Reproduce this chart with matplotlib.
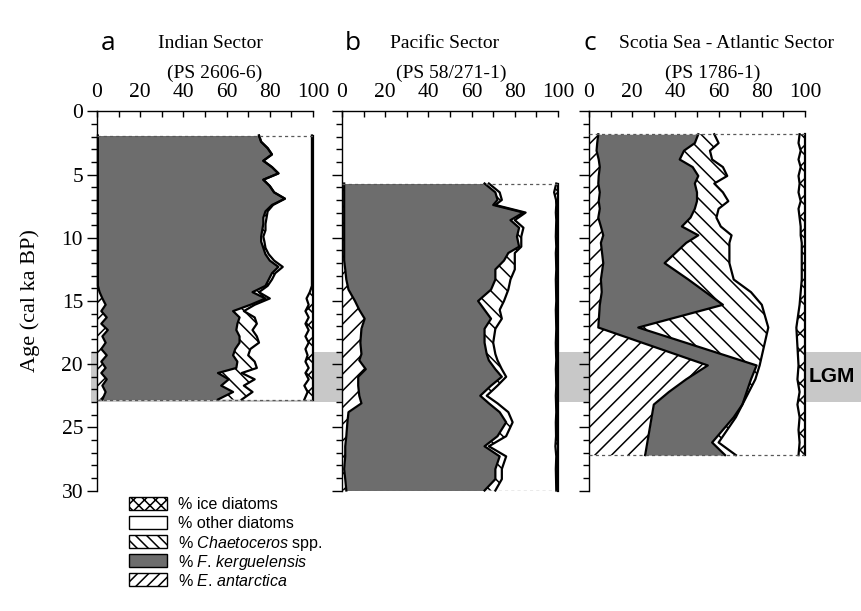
import matplotlib
matplotlib.use("Agg")
import matplotlib.pyplot as plt
import numpy as np
from matplotlib.patches import Rectangle
from matplotlib.transforms import blended_transform_factory

plt.rcParams['font.family'] = 'Liberation Serif'
plt.rcParams['hatch.linewidth'] = 1.1
plt.rcParams['mathtext.fontset'] = 'custom'
plt.rcParams['mathtext.it'] = 'Liberation Sans:italic'
plt.rcParams['mathtext.rm'] = 'Liberation Sans'

# ---- a: Indian Sector (PS 2606-6) ----
age_a = [1.9, 2.4, 2.9, 3.4, 3.9, 4.4, 4.9, 5.4, 5.9, 6.4, 6.9, 7.4, 7.9, 8.4, 8.9,
         9.4, 9.9, 10.3, 10.8, 11.3, 11.8, 12.3, 12.8, 13.3, 13.8, 14.3, 14.8, 15.3,
         15.8, 16.3, 16.8, 17.3, 17.8, 18.3, 18.8, 19.3, 19.8, 20.3, 20.7, 21.2, 21.7,
         22.2, 22.8]
ea_a = [0.4] * 25 + [1.2, 2.5, 4, 2, 4.5, 2, 5, 2.5, 4, 2, 4.5, 2, 4, 2, 4.5, 2.5, 4, 2.5]
fk_top_a = [75, 76, 79, 81, 77, 81, 84, 77, 80, 82, 87, 81, 78, 77, 77, 76.5, 76, 76, 77,
            78, 80, 84, 81, 79.5, 78, 72, 78, 71, 63, 66, 65, 64.5, 66, 66, 64, 63, 65,
            64.5, 56, 61, 57.5, 63, 56]
ch_a = [0] * 11 + [0.5, 1, 1.5, 1, 1.5, 1, 1.5, 1, 1.5, 2, 2, 1.5, 1.5, 1, 3, 2, 2, 5, 7,
                   9, 7.5, 8, 9, 7, 7, 8, 9.5, 11, 12, 10.5, 9, 11]
ice_a = [0.5] * 25 + [1.5, 3, 2, 3.5, 2, 3.5, 2, 3.5, 2, 3.5, 2.5, 3.5, 2, 3.5, 2, 4, 2.5, 4]

# ---- b: Pacific Sector (PS 58/271-1) ----
age_b = [5.7, 6.4, 7.0, 7.4, 8.0, 8.6, 9.2, 9.9, 10.7, 11.2, 11.8, 12.5, 13.3, 14.1, 15.0,
         15.7, 16.4, 17.2, 18.3, 19.2, 19.7, 20.4, 21.0, 21.7, 22.5, 23.1, 23.8, 24.6,
         25.7, 26.5, 27.3, 28.3, 29.1, 30.0]
ea_b = [1, 1, 1, 1, 1, 1, 1, 1, 1, 1, 1, 1.5, 2, 3, 6, 8, 10.5, 9, 8.5, 9, 8, 11, 7.5,
        7.5, 8, 9, 3, 2.5, 2, 1.5, 1.5, 1, 1.5, 2]
fk_top_b = [66, 71, 72, 70, 84, 78, 82, 81, 82, 77, 75, 71, 71, 69, 63, 66, 69, 66, 66,
            67, 68, 71, 74, 69, 64, 68, 73, 76, 72, 66, 73, 71, 71, 66]
ch_top_b = [68, 73, 74, 71, 85, 80, 84, 83, 83, 80, 80, 80, 78, 77, 75, 73, 74, 71, 70,
            71, 72, 74, 76, 72, 67, 72, 77, 79, 76, 68, 76, 74, 74, 71]
ice_b = [0.8, 1.8, 0.9, 0.8, 1, 0.8, 0.9, 1, 0.8, 1, 0.9, 0.8, 1, 0.9, 0.8, 1, 0.9, 0.8,
         1, 0.9, 0.8, 1, 0.9, 0.8, 1, 0.9, 0.8, 1, 0.9, 1.2, 0.8, 1, 0.9, 0.8]

# ---- c: Scotia Sea - Atlantic Sector (PS 1786-1) ----
age_c = [1.8, 2.5, 3.1, 3.8, 4.4, 5.1, 5.7, 6.4, 7.1, 7.7, 8.4, 9.1, 9.8, 10.4, 12.0,
         13.3, 14.3, 15.3, 17.1, 20.1, 21.2, 22.2, 23.2, 24.2, 25.2, 26.2, 27.2]
ea_c = [4.3, 3.8, 3.5, 4.5, 5, 4.5, 4.3, 5, 4.5, 5, 4.3, 5.5, 6.6, 5.5, 6.6, 5.5, 5.9,
        5, 4.3, 55, 45, 37, 30, 29, 28, 27, 26]
fk_top_c = [50.6, 49, 44, 42, 48, 50.6, 49, 50, 50, 49, 47, 43, 50.6, 45, 35, 46, 54,
            62, 22.8, 77.6, 75, 73, 71, 67, 62, 57, 63]
ch_top_c = [58, 60, 56, 57, 62, 64, 58, 62, 64.5, 60, 59, 61, 66, 65, 65, 67, 75, 80,
            83, 79, 77, 74, 71, 68, 64, 60, 68]
ice_c = [2.5, 3, 2, 3, 2, 3, 2.5, 3, 2, 3, 2.5, 2, 2, 1.5, 1.5, 1.5, 2, 2.5, 4, 3, 3.5,
         2.5, 3.5, 2.5, 3, 2.5, 3]

letters = ['a', 'b', 'c']
sectors = ['Indian Sector', 'Pacific Sector', 'Scotia Sea - Atlantic Sector']
cores = ['(PS 2606-6)', '(PS 58/271-1)', '(PS 1786-1)']
pct_ticks = [0, 20, 40, 60, 80, 100]
age_ticks = [0, 5, 10, 15, 20, 25, 30]
legend_labels = ['% ice diatoms', '% other diatoms', '% $\\it{Chaetoceros}$ spp.',
                 '% $\\it{F.\\,kerguelensis}$', '% $\\it{E.\\,antarctica}$']
lgm = (19, 23)

# percentages per taxon for each core
ea_a = np.array(ea_a); fk_a = np.array(fk_top_a) - ea_a
ea_b = np.array(ea_b); fk_b = np.array(fk_top_b) - ea_b
ch_b = np.array(ch_top_b) - np.array(fk_top_b)
ea_c = np.array(ea_c); fk_c = np.array(fk_top_c) - ea_c
ch_c = np.array(ch_top_c) - np.array(fk_top_c)
records = [
    (age_a, ea_a, fk_a, np.array(ch_a), np.array(ice_a)),
    (age_b, ea_b, fk_b, ch_b, np.array(ice_b)),
    (age_c, ea_c, fk_c, ch_c, np.array(ice_c)),
]

FK_COL = '#6d6d6d'
W, H = 862, 611
fx = lambda px: px / W
fy = lambda py: 1 - py / H

fig = plt.figure(figsize=(W / 100, H / 100), dpi=100)

ax_top, ax_bot = 111.5, 490.5
lefts = [97, 342, 589]
width = 216

axes = []
for i, (age, ea, fk, ch, ice) in enumerate(records):
    ax = fig.add_axes([fx(lefts[i]), fy(ax_bot), width / W, (ax_bot - ax_top) / H])
    ax.set_facecolor('none')
    age = np.array(age)
    other = 100 - ea - fk - ch - ice
    styles = [
        (ea, dict(facecolor='white', hatch='//')),
        (fk, dict(facecolor=FK_COL)),
        (ch, dict(facecolor='white', hatch='\\\\')),
        (other, dict(facecolor='white')),
        (ice, dict(facecolor='white', hatch='xx')),
    ]
    lo = np.zeros(len(age))
    for vals, st in styles:
        hi = lo + vals
        ax.fill_betweenx(age, lo, hi, edgecolor='black', linewidth=0, **st)
        ax.plot(hi, age, color='black', lw=1.6, clip_on=False, zorder=3)
        lo = hi
    for d in (age[0], age[-1]):
        ax.plot([0, 100], [d, d], color='0.35', lw=0.9, ls=(0, (2.5, 2.5)), zorder=4)

    ax.set_xlim(0, 100)
    ax.set_ylim(30, 0)
    ax.xaxis.tick_top()
    ax.set_xticks(pct_ticks)
    ax.set_xticklabels([str(t) for t in pct_ticks])
    ax.set_xticks(range(0, 101, 10), minor=True)
    ax.set_yticks(age_ticks)
    ax.set_yticklabels([str(t) for t in age_ticks])
    ax.set_yticks(range(0, 31, 1), minor=True)
    ax.tick_params(axis='x', which='both', direction='in', length=4, width=1,
                   labelsize=15.5, pad=7)
    ax.tick_params(axis='y', which='major', direction='out', length=7, width=1,
                   labelsize=15.5, pad=3)
    ax.tick_params(axis='y', which='minor', direction='out', length=4, width=1)
    if i > 0:
        ax.tick_params(axis='y', labelleft=False)
    for s in ('right', 'bottom'):
        ax.spines[s].set_visible(False)
    for s in ('top', 'left'):
        ax.spines[s].set_linewidth(1)
    axes.append(ax)

# LGM band behind the panels
band = Rectangle((fx(91), lgm[0]), 1 - fx(91), lgm[1] - lgm[0],
                 transform=blended_transform_factory(fig.transFigure, axes[0].transData),
                 facecolor='#c8c8c8', edgecolor='none', zorder=-1)
fig.add_artist(band)
fig.text(fx(832), fy(376), 'LGM', family='Liberation Sans', weight='bold', size=15,
         ha='center', va='center')

# panel titles
letter_x = [108, 353, 590]
sector_x = [210, 445, 727]
core_x = [215, 451, 713]
for i in range(3):
    fig.text(fx(letter_x[i]), fy(43), letters[i], family='Open Sans', size=19,
             ha='center', va='center')
    fig.text(fx(sector_x[i]), fy(43), sectors[i], size=14, ha='center', va='center')
    fig.text(fx(core_x[i]), fy(73), cores[i], size=14, ha='center', va='center')

fig.text(fx(30), fy(301), 'Age (cal ka BP)', size=16, rotation=90,
         ha='center', va='center')

# legend, drawn by hand so the rows stay evenly spaced
legend_styles = [
    dict(facecolor='white', hatch='xxx'),
    dict(facecolor='white'),
    dict(facecolor='white', hatch='\\\\\\'),
    dict(facecolor=FK_COL),
    dict(facecolor='white', hatch='///'),
]
for k, (lab, st) in enumerate(zip(legend_labels, legend_styles)):
    yc = 503 + 19 * k
    fig.add_artist(Rectangle((fx(129), fy(yc + 6.5)), 38 / W, 13 / H,
                             transform=fig.transFigure, edgecolor='black',
                             linewidth=1, **st))
    fig.text(fx(178), fy(yc), lab, family='Liberation Sans', size=11.5,
             ha='left', va='center_baseline')

fig.savefig('out.png', dpi=100)
